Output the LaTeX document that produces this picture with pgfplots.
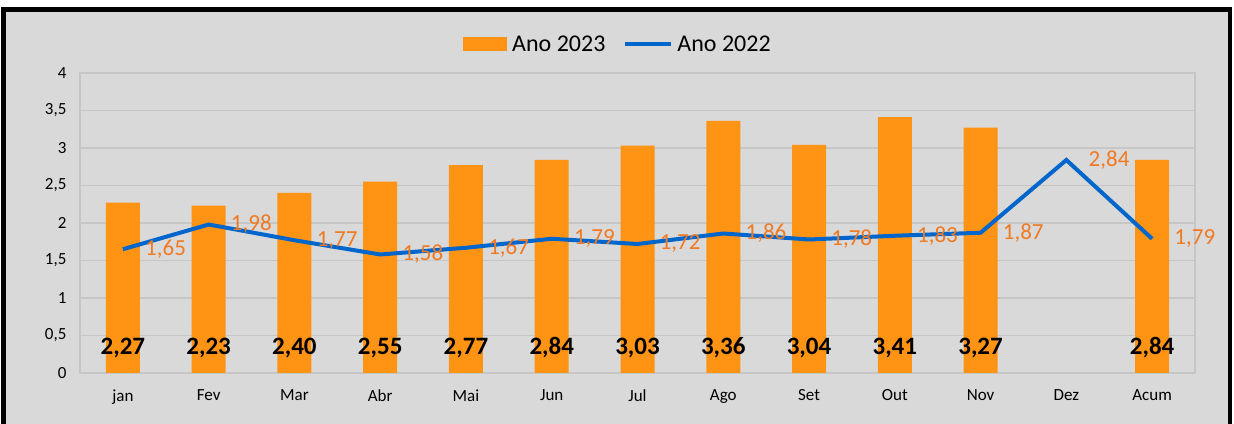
\documentclass[border=0pt]{standalone}
\usepackage{pgfplots}
\usepackage{pgfplotstable}
\pgfplotsset{compat=1.18}
\usepackage{fontspec}
\setmainfont{Carlito}
\definecolor{bg}{HTML}{D9D9D9}
\definecolor{barorange}{HTML}{FF9414}
\definecolor{lineblue}{HTML}{0066CC}
\definecolor{lblorange}{HTML}{F07A22}
\definecolor{gridgray}{HTML}{C6C6C6}

\pgfplotstableread{
x val
0 2.27
1 2.23
2 2.40
3 2.55
4 2.77
5 2.84
6 3.03
7 3.36
8 3.04
9 3.41
10 3.27
12 2.84
}\bars

\pgfplotstableread{
x val
0 1.65
1 1.98
2 1.77
3 1.58
4 1.67
5 1.79
6 1.72
7 1.86
8 1.78
9 1.83
10 1.87
11 2.84
12 1.79
}\linedata

\begin{document}
\begin{tikzpicture}
\useasboundingbox (0pt,0pt) rectangle (1234pt,423pt);
\fill[white] (0pt,0pt) rectangle (1234pt,423pt);
\filldraw[fill=bg, draw=black, line width=4.5pt] (3.5pt,-8pt) rectangle (1230pt,413.5pt);
\begin{axis}[
  at={(80pt,50pt)}, anchor=south west,
  scale only axis, width=1115pt, height=300pt,
  xmin=-0.5, xmax=12.5, ymin=0, ymax=4,
  ytick={0,0.5,1,1.5,2,2.5,3,3.5,4},
  xtick={0,1,2,3,4,5,6,7,8,9,10,11,12},
  xticklabels={jan,Fev,Mar,Abr,Mai,Jun,Jul,Ago,Set,Out,Nov,Dez,Acum},
  /pgf/number format/use comma,
  /pgf/number format/assume math mode=true,
  ymajorgrids,
  grid style={gridgray, line width=1.2pt},
  axis line style={gridgray, line width=1.2pt},
  major tick length=0pt,
  tick label style={font=\fontsize{17}{20}\selectfont, text=black},
  yticklabel style={xshift=-10pt},
  xticklabel style={yshift=-13pt},
  legend style={at={(axis description cs:0.4825,1.0967)}, anchor=center,
    draw=none, fill=none, font=\fontsize{24}{28}\selectfont,
    /tikz/every even column/.append style={column sep=16pt}},
  legend columns=2,
  clip=false,
]
\addplot[ybar, bar width=34pt, fill=barorange, draw=none,
  legend image code/.code={\fill[barorange] (0pt,-7pt) rectangle (44pt,7pt); \path (47pt,0pt);}]
  table[x=x,y=val]{\bars};
\addlegendentry{Ano 2023}
\addplot[lineblue, line width=4pt, mark=none,
  nodes near coords={\pgfmathprintnumber[fixed,fixed zerofill,precision=2,use comma,assume math mode=true]{\pgfplotspointmeta}},
  every node near coord/.append style={anchor=west, xshift=17pt, text=lblorange, font=\fontsize{23}{26}\selectfont},
  legend image code/.code={\draw[lineblue, line width=4pt] (0pt,0pt) -- (46pt,0pt); \path (48pt,0pt);}]
  table[x=x,y=val]{\linedata};
\addlegendentry{Ano 2022}
\addplot[draw=none, mark=none, forget plot, point meta=explicit,
  nodes near coords={\pgfmathprintnumber[fixed,fixed zerofill,precision=2,use comma,assume math mode=true]{\pgfplotspointmeta}},
  every node near coord/.append style={anchor=center, text=black, font=\bfseries\fontsize{25}{28}\selectfont}]
  table[x=x, y expr=0.333, meta=val]{\bars};
\end{axis}
\end{tikzpicture}
\end{document}
